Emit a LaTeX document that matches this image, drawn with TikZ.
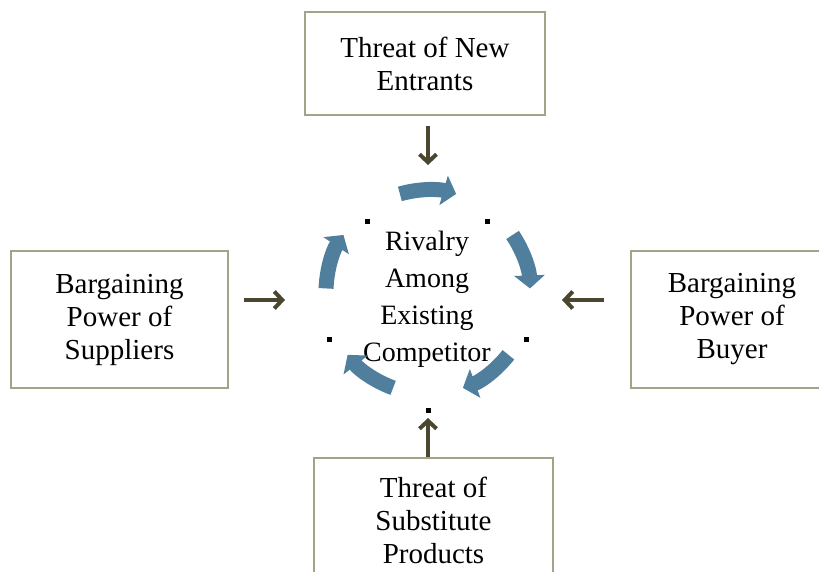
\documentclass[tikz,border=0pt]{standalone}
\usepackage{fontspec}
\setmainfont{Liberation Serif}
\usetikzlibrary{arrows.meta}
\definecolor{frame}{HTML}{A3A388}
\definecolor{forcecol}{HTML}{4A4630}
\definecolor{cyclecol}{HTML}{4F7F9C}
\begin{document}
\begin{tikzpicture}[x=1pt, y=1pt,
    box/.style={draw=frame, line width=1.2pt, rectangle, inner sep=0pt, align=center,
        font=\fontsize{29}{33}\selectfont},
    force/.style={draw=forcecol, line width=4pt, -{Straight Barb[length=8pt,width=17pt]}},
    cyc/.style={draw=cyclecol, line width=15pt, -{Triangle[length=13pt,width=30pt]}}]
    \clip (0,0) rectangle (819,-572);

    \node[box, minimum width=240, minimum height=103] (entrants) at (425,-63.5) {Threat of New\\Entrants};
    \node[box, minimum width=217, minimum height=137] (suppliers) at (119.5,-319.5) {Bargaining\\Power of\\Suppliers};
    \node[box, minimum width=202, minimum height=137] (buyer) at (732,-319.5) {Bargaining\\Power of\\Buyer};
    \node[box, minimum width=239, minimum height=125] (substitutes) at (433.5,-520.5) {Threat of\\Substitute\\Products};
    \node[align=center, inner sep=0pt, font=\fontsize{28}{37}\selectfont] (rivalry) at (427,-299) {Rivalry\\Among\\Existing\\Competitor};

    \coordinate (hub) at (428,-292);
    \coordinate (inN) at (428,-165);
    \coordinate (inW) at (285,-300);
    \coordinate (inE) at (562,-300);
    \coordinate (inS) at (428,-418);

    \draw[force, shorten <=10pt] (inN |- entrants.south) -- (inN);
    \draw[force, shorten <=15pt] (suppliers.east |- inW) -- (inW);
    \draw[force, shorten <=26pt] (buyer.west |- inE) -- (inE);
    \draw[force] (inS |- substitutes.north) -- (inS);

    % rivalry cycle
    \foreach \a in {90,18,-54,-126,-198}
        \draw[cyc] (hub) ++(\a+16:102) arc[start angle=\a+16, end angle=\a-16, radius=102];

    \foreach \p in {(367,-222), (487,-222), (329,-339), (526,-339), (428,-410)}
        \fill \p ++(-2.5,-2.5) rectangle ++(5,5);
\end{tikzpicture}
\end{document}
